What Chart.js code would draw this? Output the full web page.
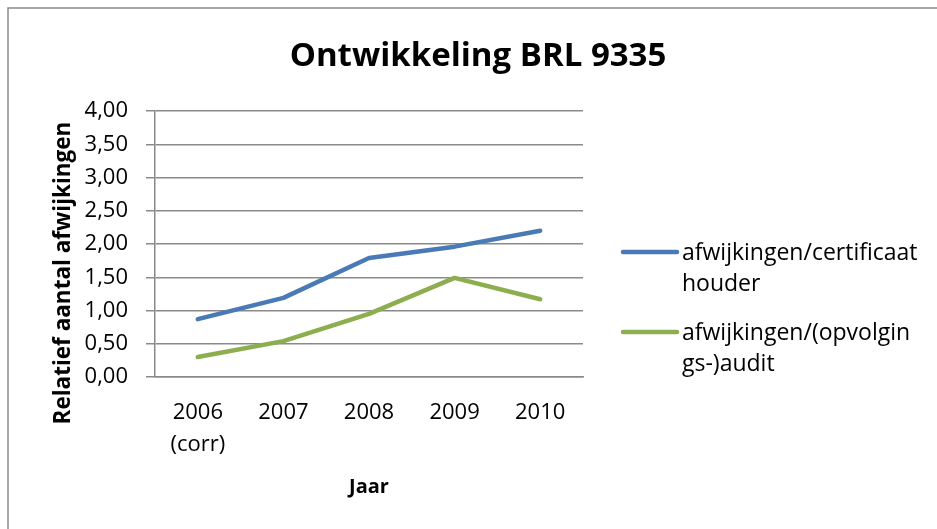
<!DOCTYPE html>
<html>
<head>
<meta charset="utf-8">
<script src="https://cdn.jsdelivr.net/npm/chart.js@4.4.1/dist/chart.umd.min.js"></script>
<style>
  html, body { margin: 0; padding: 0; background: #fff; }
  #wrap { position: relative; width: 937px; height: 529px; }
</style>
</head>
<body>
<div id="wrap"><canvas id="chart" width="937" height="529"></canvas></div>
<script>
const years = [['2006', '(corr)'], '2007', '2008', '2009', '2010'];
const perCertHolder = [0.87, 1.19, 1.79, 1.96, 2.20];
const perAudit = [0.30, 0.54, 0.95, 1.49, 1.17];
const seriesNames = ['afwijkingen/certificaat houder', 'afwijkingen/(opvolgings-)audit'];
const legendLines = [['afwijkingen/certificaat', 'houder'], ['afwijkingen/(opvolgin', 'gs-)audit']];
const yTickLabels = ['0,00', '0,50', '1,00', '1,50', '2,00', '2,50', '3,00', '3,50', '4,00'];
const chartTitle = 'Ontwikkeling BRL 9335';
const yTitle = 'Relatief aantal afwijkingen';
const xTitle = 'Jaar';

const FONT = '"Open Sans", "Liberation Sans", sans-serif';
const blue = '#4a7ab5';
const green = '#8cae4f';
const gridGray = '#8a8a8a';

// title, y-axis title, legend and frame drawn by hand
const extras = {
    id: 'extras',
    beforeDraw(chart) {
        const ctx = chart.ctx;
        ctx.save();
        ctx.strokeStyle = '#8c8c8c';
        ctx.lineWidth = 1.5;
        ctx.beginPath();
        ctx.moveTo(8, 529);
        ctx.lineTo(8, 8);
        ctx.lineTo(937, 8);
        ctx.stroke();
        ctx.restore();
    },
    afterDraw(chart) {
        const ctx = chart.ctx;
        ctx.save();
        ctx.fillStyle = '#000';
        ctx.textAlign = 'center';
        ctx.textBaseline = 'alphabetic';
        ctx.font = 'bold 33px ' + FONT;
        ctx.fillText(chartTitle, 478, 66);

        ctx.save();
        ctx.translate(70, 273);
        ctx.rotate(-Math.PI / 2);
        ctx.font = 'bold 22.5px ' + FONT;
        ctx.fillText(yTitle, 0, 0);
        ctx.restore();

        // legend
        const startY = [252, 332];
        chart.data.datasets.forEach((ds, i) => {
            const y = startY[i];
            ctx.strokeStyle = ds.borderColor;
            ctx.lineWidth = 4.5;
            ctx.lineCap = 'round';
            ctx.beginPath();
            ctx.moveTo(623, y);
            ctx.lineTo(677, y);
            ctx.stroke();
            ctx.font = '23px ' + FONT;
            ctx.textAlign = 'left';
            ctx.textBaseline = 'middle';
            legendLines[i].forEach((line, j) => {
                ctx.fillText(line, 682, y + 1 + j * 31);
            });
        });
        ctx.restore();
    }
};

const ctx = document.getElementById('chart').getContext('2d');
new Chart(ctx, {
    type: 'line',
    data: {
        labels: years,
        datasets: [
            {
                label: seriesNames[0],
                data: perCertHolder,
                borderColor: blue,
                borderWidth: 4.5,
                pointRadius: 0,
                tension: 0,
                borderCapStyle: 'round',
                borderJoinStyle: 'round'
            },
            {
                label: seriesNames[1],
                data: perAudit,
                borderColor: green,
                borderWidth: 4.5,
                pointRadius: 0,
                tension: 0,
                borderCapStyle: 'round',
                borderJoinStyle: 'round'
            }
        ]
    },
    options: {
        responsive: false,
        animation: false,
        layout: {
            padding: { top: 111, left: 0, right: 354, bottom: 22 }
        },
        plugins: {
            legend: { display: false },
            title: { display: false },
            tooltip: { enabled: false }
        },
        scales: {
            x: {
                offset: true,
                grid: { display: false },
                border: { display: true, color: gridGray, width: 1.5 },
                ticks: {
                    color: '#000',
                    padding: 12,
                    maxRotation: 0,
                    font: { family: FONT, size: 22, lineHeight: 1.45 }
                },
                title: {
                    display: true,
                    text: xTitle,
                    color: '#000',
                    padding: { top: 0, bottom: 8 },
                    font: { family: FONT, size: 20, weight: 'bold' }
                },
                afterFit(scale) { scale.height = 130; }
            },
            y: {
                min: 0,
                max: 4,
                ticks: {
                    stepSize: 0.5,
                    color: '#000',
                    padding: 18,
                    font: { family: FONT, size: 22 },
                    callback: (value, index) => yTickLabels[index]
                },
                grid: {
                    color: gridGray,
                    lineWidth: 1.5,
                    tickLength: 9,
                    drawTicks: true
                },
                border: { display: true, color: gridGray, width: 1.5 },
                afterFit(scale) { scale.width = 155; }
            }
        }
    },
    plugins: [extras]
});
</script>
</body>
</html>
